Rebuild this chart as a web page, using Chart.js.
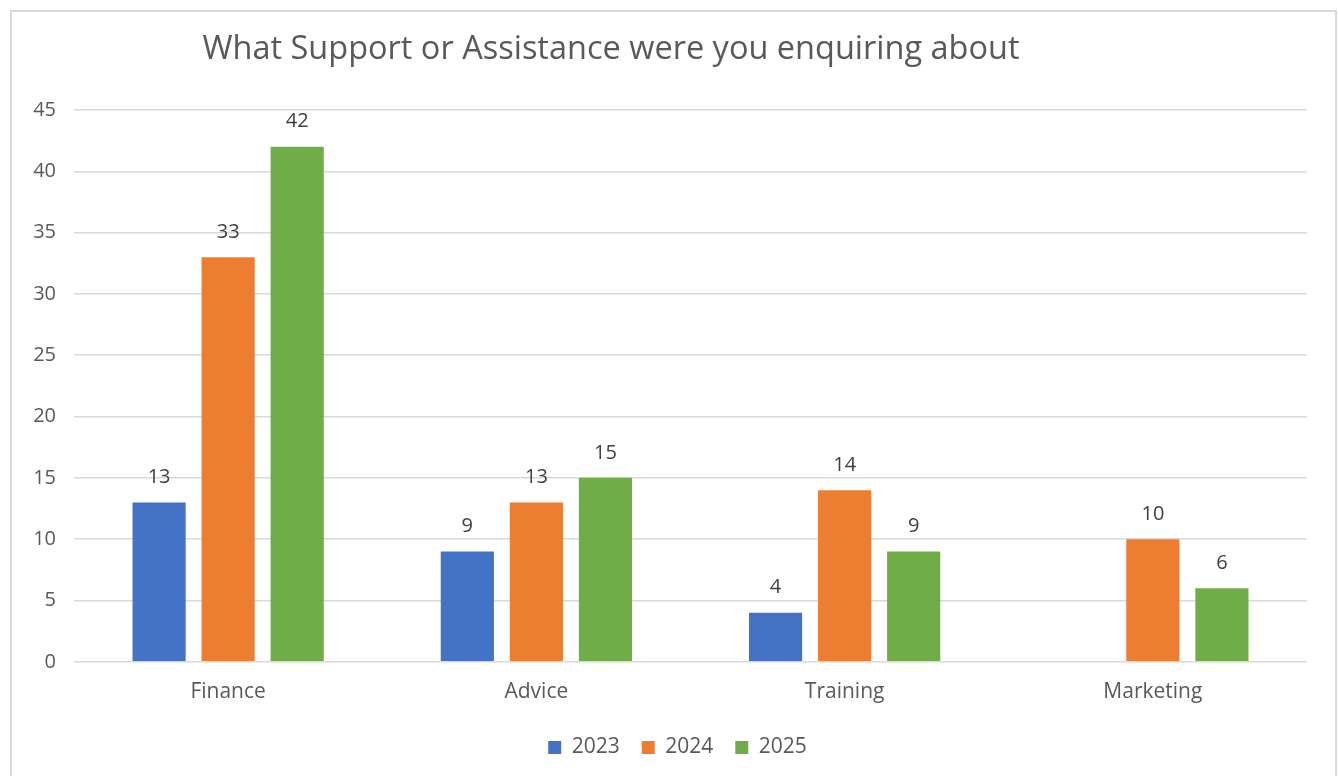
<!DOCTYPE html>
<html>
<head>
<meta charset="utf-8">
<script src="https://cdn.jsdelivr.net/npm/chart.js@4/dist/chart.umd.min.js"></script>
<style>
  body { margin: 0; background: #fff; overflow: hidden; }
  #caixa {
    position: absolute; left: 10px; top: 10px;
    width: 1323px; height: 800px;
    border: 2px solid #d9d9d9; background: #fff;
  }
  #grafico { position: absolute; left: 0; top: 0; }
</style>
</head>
<body>
<div id="caixa"><canvas id="grafico" width="1323" height="766"></canvas></div>
<script>
// dados
const titulo = "What Support or Assistance were you enquiring about";
const categorias = ["Finance", "Advice", "Training", "Marketing"];
const anos = ["2023", "2024", "2025"];
const valores2023 = [13, 9, 4, null];
const valores2024 = [33, 13, 14, 10];
const valores2025 = [42, 15, 9, 6];
const cores = ["#4472c4", "#ed7d31", "#70ad47"];

const fonte = "'Open Sans', 'Noto Sans', sans-serif";
const cinza = "#595959";

// Plugin simples para o título e os rótulos de valor
const rotulosPlugin = {
    id: "rotulos",
    afterLayout(chart) {
        // empurra a legenda um pouco para a direita
        if (chart.legend) {
            chart.legend.left += 18;
            chart.legend.right += 18;
        }
    },
    afterDatasetsDraw(chart) {
        const ctx = chart.ctx;
        ctx.save();
        ctx.font = "20px " + fonte;
        ctx.fillStyle = "#404040";
        ctx.textAlign = "center";
        ctx.textBaseline = "middle";
        chart.data.datasets.forEach((ds, i) => {
            chart.getDatasetMeta(i).data.forEach((bar, j) => {
                if (ds.data[j] == null) return;
                ctx.fillText(String(ds.data[j]), bar.x, bar.y - 25);
            });
        });
        // título
        ctx.font = "32.5px " + fonte;
        ctx.fillStyle = cinza;
        ctx.fillText(titulo, 599, 38);
        ctx.restore();
    }
};

const ctx = document.getElementById("grafico").getContext("2d");
new Chart(ctx, {
    type: "bar",
    data: {
        labels: categorias,
        datasets: [
            { label: anos[0], data: valores2023, backgroundColor: cores[0] },
            { label: anos[1], data: valores2024, backgroundColor: cores[1] },
            { label: anos[2], data: valores2025, backgroundColor: cores[2] },
        ],
    },
    options: {
        responsive: false,
        animation: false,
        categoryPercentage: 0.672,
        barPercentage: 0.77,
        layout: { padding: { top: 98, right: 28, bottom: 10, left: 0 } },
        plugins: {
            legend: {
                position: "bottom",
                labels: {
                    boxWidth: 13,
                    boxHeight: 13,
                    padding: 22,
                    color: cinza,
                    font: { family: fonte, size: 21 },
                },
            },
            tooltip: { enabled: false },
        },
        scales: {
            x: {
                grid: { display: false },
                border: { display: false },
                ticks: { color: cinza, font: { family: fonte, size: 21 }, padding: 10 },
            },
            y: {
                min: 0,
                max: 45,
                afterFit(scale) { scale.width = 62; },
                grid: { color: "#d9d9d9", lineWidth: 1.5, drawTicks: false },
                border: { display: false },
                ticks: { stepSize: 5, color: cinza, font: { family: fonte, size: 20 }, padding: 18 },
            },
        },
    },
    plugins: [rotulosPlugin],
});
</script>
</body>
</html>
